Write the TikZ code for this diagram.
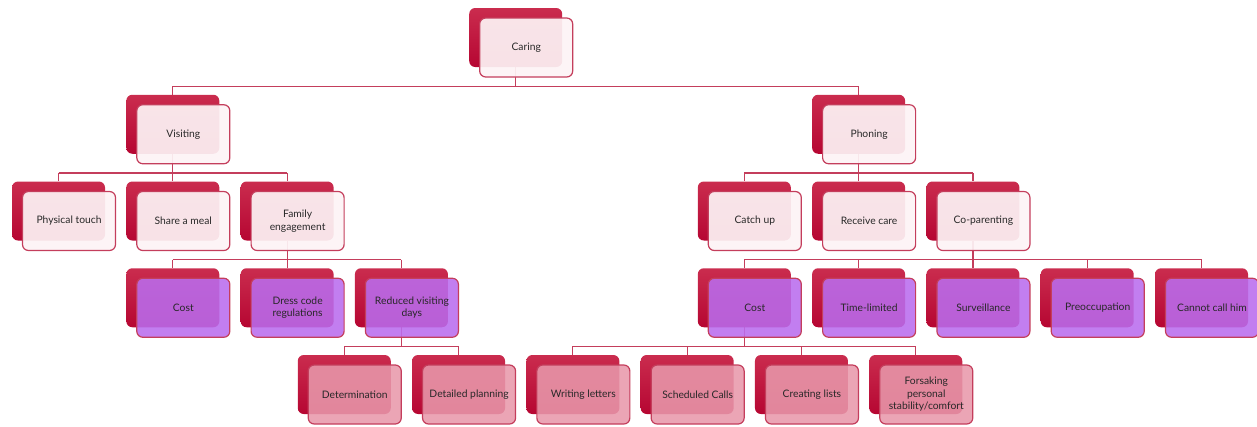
\documentclass[tikz,border=0pt]{standalone}
\usepackage{fontspec}
\setmainfont{Lato}
\usetikzlibrary{calc}
\pgfdeclarelayer{bg}
\pgfsetlayers{bg,main}
\definecolor{backtop}{RGB}{202,44,78}
\definecolor{backbot}{RGB}{182,6,50}
\definecolor{edgecol}{RGB}{196,62,92}
\definecolor{lightfill}{RGB}{253,243,245}
\definecolor{purplefill}{RGB}{186,108,238}
\definecolor{pinkfill}{RGB}{232,152,171}
\definecolor{txt}{RGB}{40,40,40}
\tikzset{
  backbox/.style={rectangle, rounded corners=6pt, minimum width=93pt, minimum height=59pt,
    top color=backtop, bottom color=backbot, draw=none, inner sep=0pt},
  frontbox/.style={rectangle, rounded corners=6pt, minimum width=93pt, minimum height=59pt,
    draw=edgecol, line width=1.2pt, fill opacity=0.88, text opacity=1, inner sep=1pt,
    align=center, text=txt, font=\fontsize{10.3}{12.5}\selectfont},
  lvlA/.style={fill=lightfill, fill opacity=0.93},
  lvlB/.style={fill=purplefill},
  lvlC/.style={fill=pinkfill},
  conn/.style={draw=edgecol, line width=1.2pt},
}
\newcommand\ssabox[5]{%
  \node[backbox] (#1b) at ({58.5+114.3*#2},{#3+29.5}) {};
  \node[frontbox,#4] (#1) at ({58.5+114.3*#2+10.5},{#3+39.5}) {#5};
}
% trunk: parent, leftmost child, rightmost child
\newcommand\ssatrunk[3]{%
  \begin{pgfonlayer}{bg}
  \draw[conn] (#1b.south) -- ++(0,19) coordinate (#1bus);
  \draw[conn] (#2b.north |- #1bus) -- (#3b.north |- #1bus);
  \end{pgfonlayer}
}
\newcommand\ssalink[2]{%
  \begin{pgfonlayer}{bg}
  \draw[conn] (#2b.north |- #1bus) -- (#2b.north);
  \end{pgfonlayer}
}
\begin{document}
\begin{tikzpicture}[x=1pt,y=-1pt]
\useasboundingbox (0,0) rectangle (1257,426);
\begin{scope}
\clip (0,0) rectangle (1257,426);
% row 0
\ssabox{caring}{4}{8}{lvlA}{Caring}
% row 1
\ssabox{visiting}{1}{94.75}{lvlA}{Visiting}
\ssabox{phoning}{7}{94.75}{lvlA}{Phoning}
% row 2
\ssabox{touch}{0}{181.5}{lvlA}{Physical touch}
\ssabox{meal}{1}{181.5}{lvlA}{Share a meal}
\ssabox{family}{2}{181.5}{lvlA}{Family\\engagement}
\ssabox{catch}{6}{181.5}{lvlA}{Catch up}
\ssabox{receive}{7}{181.5}{lvlA}{Receive care}
\ssabox{copar}{8}{181.5}{lvlA}{Co-parenting}
% row 3
\ssabox{costA}{1}{268.25}{lvlB}{Cost}
\ssabox{dress}{2}{268.25}{lvlB}{Dress code\\regulations}
\ssabox{reduced}{3}{268.25}{lvlB}{Reduced visiting\\days}
\ssabox{costB}{6}{268.25}{lvlB}{Cost}
\ssabox{timel}{7}{268.25}{lvlB}{Time-limited}
\ssabox{surv}{8}{268.25}{lvlB}{Surveillance}
\ssabox{preoc}{9}{268.25}{lvlB}{Preoccupation}
\ssabox{cannot}{10}{268.25}{lvlB}{Cannot call him}
% row 4
\ssabox{determ}{2.5}{355}{lvlC}{Determination}
\ssabox{detail}{3.5}{355}{lvlC}{Detailed planning}
\ssabox{letters}{4.5}{355}{lvlC}{Writing letters}
\ssabox{sched}{5.5}{355}{lvlC}{Scheduled Calls}
\ssabox{lists}{6.5}{355}{lvlC}{Creating lists}
\ssabox{forsake}{7.5}{355}{lvlC}{Forsaking\\personal\\stability/comfort}
% connectors
\ssatrunk{caring}{visiting}{phoning}
\ssalink{caring}{visiting}
\ssalink{caring}{phoning}
\ssatrunk{visiting}{touch}{family}
\ssalink{visiting}{touch}
\ssalink{visiting}{meal}
\ssalink{visiting}{family}
\ssatrunk{phoning}{catch}{copar}
\ssalink{phoning}{catch}
\ssalink{phoning}{receive}
\ssalink{phoning}{copar}
\ssatrunk{family}{costA}{reduced}
\ssalink{family}{costA}
\ssalink{family}{dress}
\ssalink{family}{reduced}
\ssatrunk{copar}{costB}{cannot}
\ssalink{copar}{costB}
\ssalink{copar}{timel}
\ssalink{copar}{surv}
\ssalink{copar}{preoc}
\ssalink{copar}{cannot}
\ssatrunk{reduced}{determ}{detail}
\ssalink{reduced}{determ}
\ssalink{reduced}{detail}
\ssatrunk{costB}{letters}{forsake}
\ssalink{costB}{letters}
\ssalink{costB}{sched}
\ssalink{costB}{lists}
\ssalink{costB}{forsake}
\end{scope}
\end{tikzpicture}
\end{document}
